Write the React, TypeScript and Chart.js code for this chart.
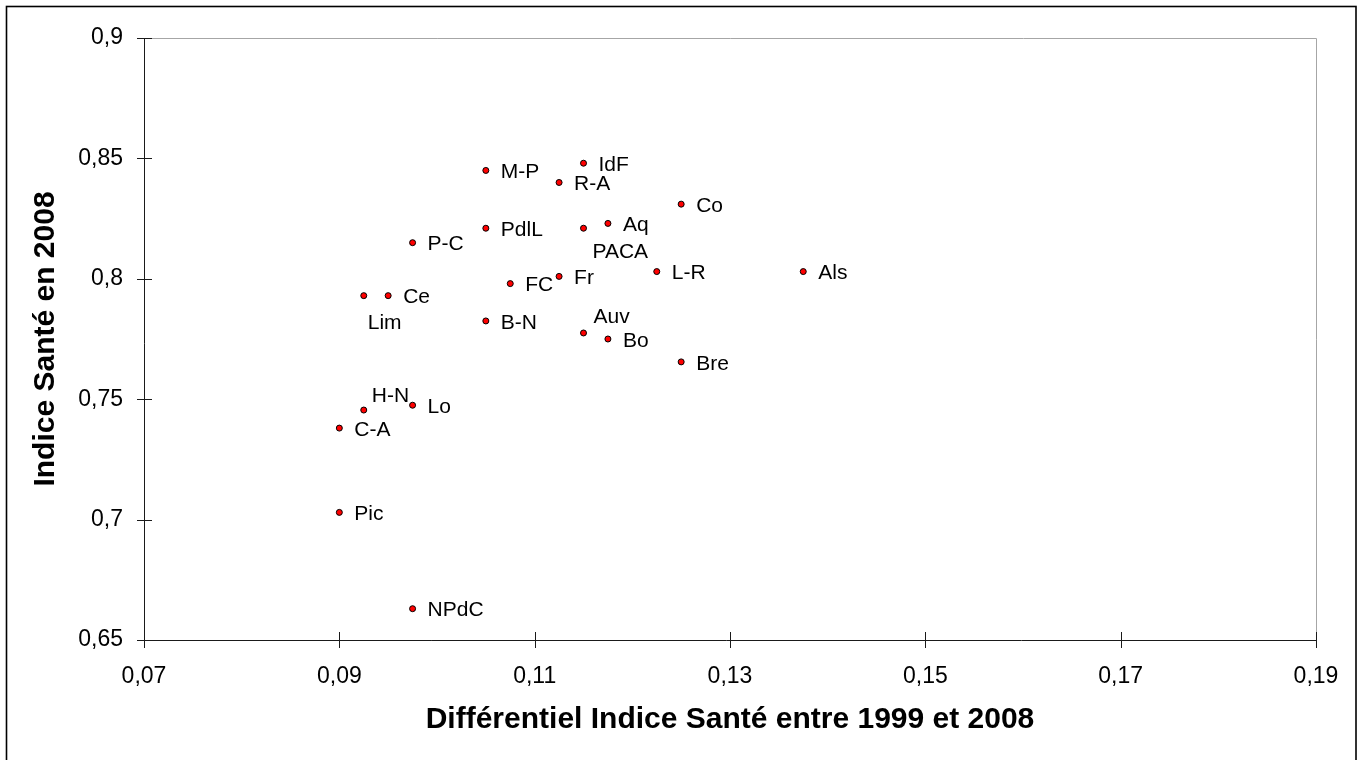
import React, { useEffect, useRef } from "react";
import { Chart, registerables } from "chart.js";

Chart.register(...registerables);

// ---- Data ----
const REGIONS = [
  "IdF", "M-P", "R-A", "Co", "Aq", "PdlL", "PACA", "P-C", "L-R", "Als", "Fr", "FC",
  "Ce", "Lim", "B-N", "Auv", "Bo", "Bre", "Lo", "H-N", "C-A", "Pic", "NPdC",
];
const DIFF_1999_2008 = [
  0.115, 0.105, 0.1125, 0.125, 0.1175, 0.105, 0.115, 0.0975, 0.1225, 0.1375, 0.1125, 0.1075,
  0.095, 0.0925, 0.105, 0.115, 0.1175, 0.125, 0.0975, 0.0925, 0.09, 0.09, 0.0975,
];
const INDEX_2008 = [
  0.848, 0.845, 0.84, 0.831, 0.823, 0.821, 0.821, 0.815, 0.803, 0.803, 0.801, 0.798,
  0.793, 0.793, 0.7825, 0.7775, 0.775, 0.7655, 0.7475, 0.7455, 0.738, 0.703, 0.663,
];
const X_TICKS = [0.07, 0.09, 0.11, 0.13, 0.15, 0.17, 0.19];
const X_TICK_LABELS = ["0,07", "0,09", "0,11", "0,13", "0,15", "0,17", "0,19"];
const Y_TICKS = [0.65, 0.7, 0.75, 0.8, 0.85, 0.9];
const Y_TICK_LABELS = ["0,65", "0,7", "0,75", "0,8", "0,85", "0,9"];
const X_TITLE = "Différentiel Indice Santé entre 1999 et 2008";
const Y_TITLE = "Indice Santé en 2008";

// ---- Styles (label placement relative to its point) ----
const FONT = 'Arial, "Liberation Sans", sans-serif';
const DEFAULT_OFFSET = { dx: 15, dy: 2 };
const LABEL_OFFSETS: Record<string, { dx: number; dy: number }> = {
  Lim: { dx: 4, dy: 28 },
  PACA: { dx: 9, dy: 24 },
  Auv: { dx: 10, dy: -16 },
  "H-N": { dx: 8, dy: -14 },
};

const decorPlugin = {
  id: "decor",
  beforeDraw(chart: any) {
    const ctx = chart.ctx;
    ctx.save();
    ctx.fillStyle = "#ffffff";
    ctx.fillRect(0, 0, chart.width, chart.height);
    ctx.strokeStyle = "#000000";
    ctx.lineWidth = 1.6;
    ctx.strokeRect(6.5, 6.5, 1349.5, 800);
    ctx.restore();
  },
  beforeDatasetsDraw(chart: any) {
    const ctx = chart.ctx;
    const { left, right, top, bottom } = chart.chartArea;
    const xs = chart.scales.x;
    const ys = chart.scales.y;
    ctx.save();
    // gray top/right border
    ctx.strokeStyle = "#a6a6a6";
    ctx.lineWidth = 1;
    ctx.beginPath();
    ctx.moveTo(left, top + 0.5);
    ctx.lineTo(right + 0.5, top + 0.5);
    ctx.lineTo(right + 0.5, bottom);
    ctx.stroke();
    // axes
    ctx.strokeStyle = "#1a1a1a";
    ctx.beginPath();
    ctx.moveTo(left + 0.5, top + 0.5);
    ctx.lineTo(left + 0.5, bottom + 8);
    ctx.moveTo(left - 7, bottom + 0.5);
    ctx.lineTo(right + 0.5, bottom + 0.5);
    // ticks crossing the axes
    xs.ticks.forEach((t: any) => {
      const px = Math.round(xs.getPixelForValue(t.value)) + 0.5;
      ctx.moveTo(px, bottom - 8);
      ctx.lineTo(px, bottom + 8);
    });
    ys.ticks.forEach((t: any) => {
      const py = Math.round(ys.getPixelForValue(t.value)) + 0.5;
      ctx.moveTo(left - 7, py);
      ctx.lineTo(left + 8, py);
    });
    ctx.stroke();
    ctx.restore();
  },
  afterDatasetsDraw(chart: any) {
    const ctx = chart.ctx;
    const meta = chart.getDatasetMeta(0);
    ctx.save();
    ctx.fillStyle = "#000000";
    ctx.font = `21px ${FONT}`;
    ctx.textAlign = "left";
    ctx.textBaseline = "middle";
    meta.data.forEach((el: any, i: number) => {
      const name = REGIONS[i];
      const off = LABEL_OFFSETS[name] || DEFAULT_OFFSET;
      ctx.fillText(name, el.x + off.dx, el.y + off.dy);
    });
    ctx.restore();
  },
};

export default function App() {
  const canvasRef = useRef<HTMLCanvasElement | null>(null);

  useEffect(() => {
    if (!canvasRef.current) return;
    const points = DIFF_1999_2008.map((x, i) => ({ x, y: INDEX_2008[i] }));
    const chart = new Chart(canvasRef.current, {
      type: "scatter",
      data: {
        datasets: [
          {
            data: points,
            backgroundColor: "#ff0000",
            borderColor: "#000000",
            borderWidth: 1,
            pointRadius: 3,
          },
        ],
      },
      options: {
        responsive: false,
        animation: false,
        layout: { padding: { left: 0, right: 46, top: 38, bottom: 0 } },
        plugins: {
          legend: { display: false },
          tooltip: { enabled: false },
        },
        scales: {
          x: {
            type: "linear",
            min: 0.07,
            max: 0.19,
            afterBuildTicks: (scale: any) => {
              scale.ticks = X_TICKS.map((v) => ({ value: v }));
            },
            afterFit: (scale: any) => {
              scale.height = 120;
            },
            grid: { display: false },
            border: { display: false },
            ticks: {
              autoSkip: false,
              maxRotation: 0,
              padding: 15,
              color: "#000000",
              font: { family: FONT, size: 23 },
              callback: (_v: any, i: number) => X_TICK_LABELS[i],
            },
            title: {
              display: true,
              text: X_TITLE,
              color: "#000000",
              font: { family: FONT, size: 30, weight: "bold" },
              padding: { top: 0, bottom: 22 },
            },
          },
          y: {
            type: "linear",
            min: 0.65,
            max: 0.9,
            afterBuildTicks: (scale: any) => {
              scale.ticks = Y_TICKS.map((v) => ({ value: v }));
            },
            afterFit: (scale: any) => {
              scale.width = 144;
            },
            grid: { display: false },
            border: { display: false },
            ticks: {
              autoSkip: false,
              padding: 13,
              color: "#000000",
              font: { family: FONT, size: 23 },
              callback: (_v: any, i: number) => Y_TICK_LABELS[i],
            },
            title: {
              display: true,
              text: Y_TITLE,
              color: "#000000",
              font: { family: FONT, size: 30, weight: "bold" },
              padding: { top: 28, bottom: 0 },
            },
          },
        },
      },
      plugins: [decorPlugin],
    });
    return () => chart.destroy();
  }, []);

  return (
    <div style={{ position: "fixed", left: 0, top: 0, width: 1362, height: 760 }}>
      <canvas ref={canvasRef} width={1362} height={760} style={{ display: "block" }} />
    </div>
  );
}
